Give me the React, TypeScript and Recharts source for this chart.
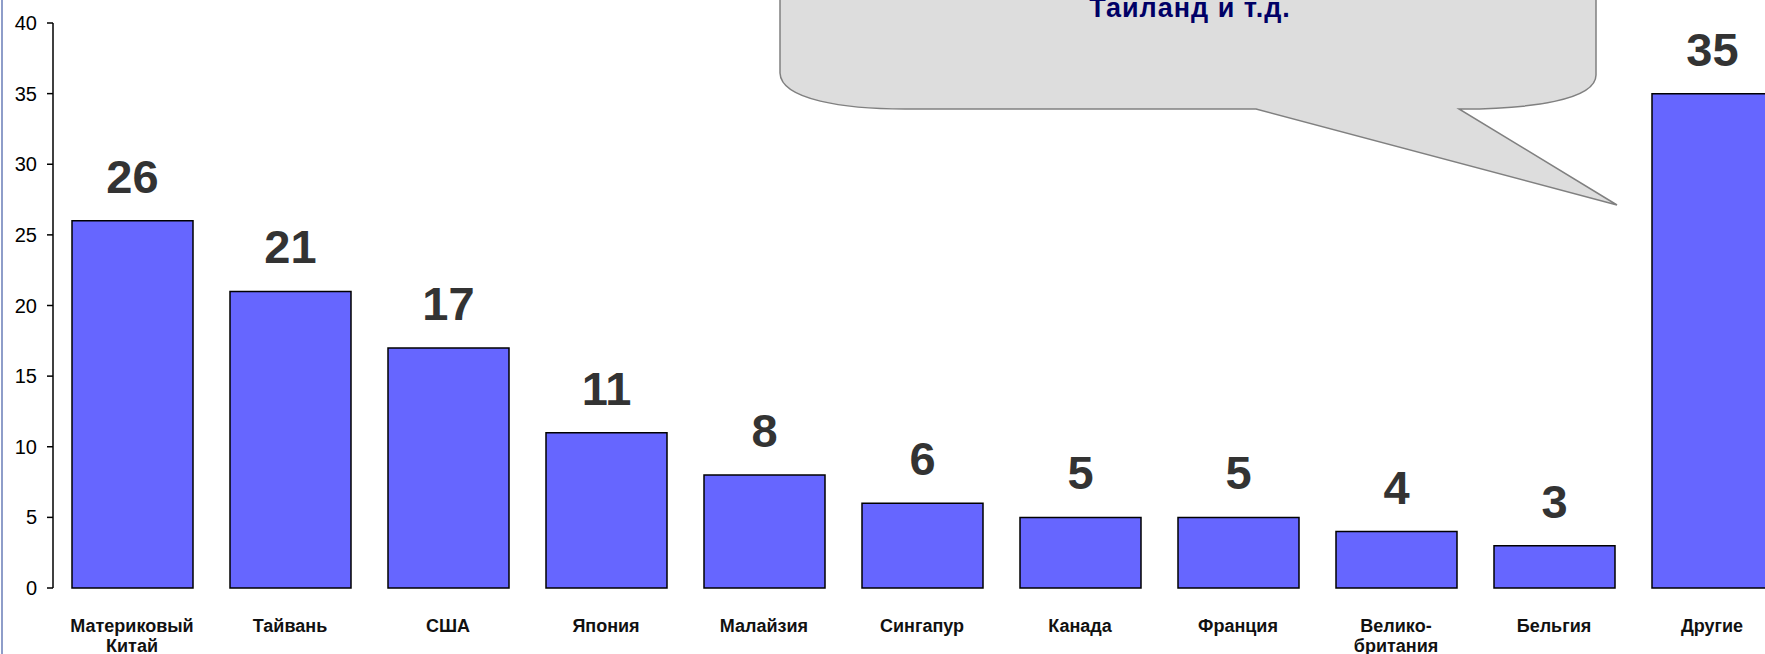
import { Bar, BarChart, LabelList, XAxis, YAxis } from 'recharts'

const categories = [
    'Материковый\nКитай',
    'Тайвань',
    'США',
    'Япония',
    'Малайзия',
    'Сингапур',
    'Канада',
    'Франция',
    'Велико-\nбритания',
    'Бельгия',
    'Другие',
]
const values = [26, 21, 17, 11, 8, 6, 5, 5, 4, 3, 35]
const yTicks = [0, 5, 10, 15, 20, 25, 30, 35, 40]
const calloutText = 'Таиланд и т.д.'

const data = categories.map((name, i) => ({ name, value: values[i] }))

const font = '"Liberation Sans", Arial, sans-serif'

const CategoryTick = ({ x, y, payload }: any) => {
    const lines = String(payload.value).split('\n')
    return (
        <text x={x} y={y} textAnchor='middle' fontFamily={font} fontSize={18} fontWeight='bold' fill='#111'>
            {lines.map((line, i) => (
                <tspan key={i} x={x} dy={i === 0 ? 38 : 20}>{line}</tspan>
            ))}
        </text>
    )
}

const ValueLabel = ({ x, y, width, value }: any) => (
    <text
        x={Number(x) + Number(width) / 2}
        y={Number(y) - 28}
        textAnchor='middle'
        fontFamily={font}
        fontSize={47}
        fontWeight='bold'
        fill='#333333'
    >
        {value}
    </text>
)

// speech-bubble annotation, top part is off the picture
const Callout = () => (
    <svg width={1765} height={654} style={{ position: 'absolute', left: 0, top: 0, pointerEvents: 'none' }}>
        <path
            d='M 780 -20 L 780 73 C 781 100 845 109 905 109 L 1256 109 L 1617 205 L 1459 109 L 1462 109 C 1530 109 1596 100 1596 75 L 1596 -20 Z'
            fill='#DDDDDD'
            stroke='#808080'
            strokeWidth={1.5}
        />
        <text x={1190} y={17} textAnchor='middle' fontFamily={font} fontSize={27} fontWeight='bold' letterSpacing={1} fill='#000066'>
            {calloutText}
        </text>
    </svg>
)

export default function App() {
    return (
        <div style={{ position: 'relative', width: 1765, height: 654, overflow: 'hidden', background: '#fff' }}>
            <style>{'body{margin:0;overflow:hidden}'}</style>
            <div style={{ position: 'absolute', left: 1, top: 0, width: 2, height: 654, background: '#8E9DC9' }} />
            <BarChart
                width={1800}
                height={654}
                data={data}
                margin={{ top: 23, right: 9, bottom: 0, left: 0 }}
            >
                <XAxis
                    dataKey='name'
                    axisLine={false}
                    tickLine={false}
                    height={66}
                    interval={0}
                    tickMargin={0}
                    tick={<CategoryTick />}
                />
                <YAxis
                    width={53}
                    domain={[0, 40]}
                    ticks={yTicks}
                    tickSize={6}
                    tickMargin={10}
                    axisLine={{ stroke: '#000', strokeWidth: 1.5 }}
                    tickLine={{ stroke: '#000', strokeWidth: 1.5 }}
                    tick={{ fill: '#000', fontSize: 20, fontFamily: font }}
                />
                <Bar dataKey='value' fill='#6666FF' stroke='#000' strokeWidth={1.5} barSize={121} isAnimationActive={false}>
                    <LabelList dataKey='value' content={<ValueLabel />} />
                </Bar>
            </BarChart>
            <Callout />
        </div>
    )
}
